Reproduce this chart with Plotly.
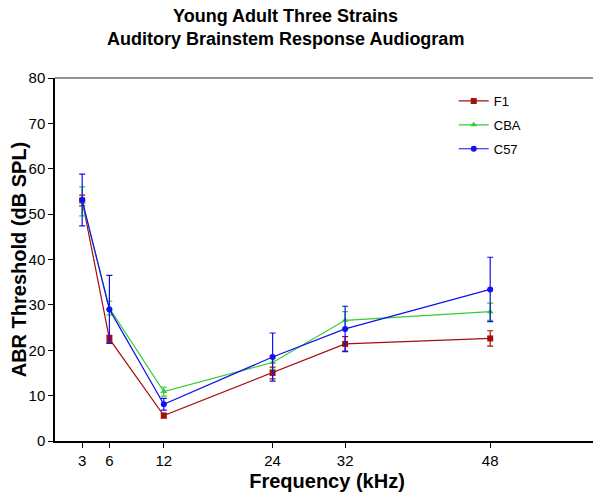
import plotly.graph_objects as go

freqs = [3, 6, 12, 24, 32, 48]
tick_vals = [3, 6, 12, 24, 32, 48]
tick_labels = ["3", "6", "12", "24", "32", "48"]

f1_vals = [53.0, 22.5, 5.6, 15.0, 21.4, 22.6]
f1_err = [1.2, 0.8, 0.5, 1.3, 1.6, 1.7]
cba_vals = [52.8, 29.3, 10.9, 17.3, 26.6, 28.5]
cba_err = [3.2, 1.5, 1.0, 1.5, 1.9, 1.9]
c57_vals = [53.1, 29.0, 8.1, 18.5, 24.7, 33.4]
c57_err = [5.7, 7.5, 1.3, 5.3, 5.0, 7.1]

title_lines = ["Young Adult Three Strains", "Auditory Brainstem Response Audiogram"]

series = [
    ("F1", f1_vals, f1_err, "#A50E0E", "square", 6),
    ("CBA", cba_vals, cba_err, "#33CC33", "triangle-up", 6),
    ("C57", c57_vals, c57_err, "#1010F0", "circle", 6),
]

fig = go.Figure()
for name, vals, err, color, sym, size in series:
    fig.add_trace(go.Scatter(
        x=freqs, y=vals, name=name, mode="lines+markers", legendgroup=name,
        line=dict(color=color, width=1.2),
        marker=dict(symbol=sym, size=size, color=color),
        error_y=dict(type="data", array=err, visible=True, color=color, thickness=1.2, width=3),
    ))

annotations = [
    dict(text="<b>%s</b>" % title_lines[0], xref="paper", yref="paper",
         x=0.423, y=1.17, xanchor="center", yanchor="middle", showarrow=False,
         font=dict(size=18, color="black")),
    dict(text="<b>%s</b>" % title_lines[1], xref="paper", yref="paper",
         x=0.423, y=1.108, xanchor="center", yanchor="middle", showarrow=False,
         font=dict(size=18, color="black")),
]

fig.update_layout(
    width=593, height=493,
    margin=dict(l=47, r=2, t=70, b=60),
    paper_bgcolor="white", plot_bgcolor="white",
    font=dict(family="Arial, Liberation Sans, sans-serif", color="black"),
    annotations=annotations,
    xaxis=dict(
        range=[0, 60], tickvals=tick_vals, ticktext=tick_labels,
        showgrid=False, zeroline=False, showline=True, linecolor="black", linewidth=1.5,
        ticks="outside", ticklen=5, tickcolor="black", tickfont=dict(size=15),
        title=dict(text="<b>Frequency (kHz)</b>", font=dict(size=20), standoff=6),
    ),
    yaxis=dict(
        range=[0, 80], dtick=10,
        showgrid=False, zeroline=False, showline=True, linecolor="black", linewidth=1.5,
        ticks="outside", ticklen=5, tickcolor="black", tickfont=dict(size=15),
        title=dict(text="<b>ABR Threshold (dB SPL)</b>", font=dict(size=20), standoff=4),
    ),
    legend=dict(
        x=0.733, y=0.978, xanchor="left", yanchor="top",
        font=dict(size=13, color="black"), bgcolor="rgba(0,0,0,0)",
        tracegroupgap=4,
    ),
    shapes=[
        dict(type="line", xref="paper", yref="paper", x0=0, x1=1, y0=1, y1=1,
             line=dict(color="#707070", width=1.5)),
        dict(type="line", xref="paper", yref="paper", x0=1, x1=1, y0=0, y1=1,
             line=dict(color="#303030", width=1.5)),
    ],
)

fig.write_html("out.html")
